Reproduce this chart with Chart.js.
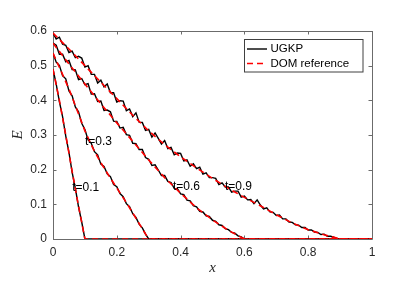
<!DOCTYPE html>
<html>
<head>
<meta charset="utf-8">
<script src="https://cdn.jsdelivr.net/npm/chart.js@4.4.0/dist/chart.umd.min.js"></script>
<style>
  html, body { margin: 0; padding: 0; background: #fff; }
</style>
</head>
<body>
<canvas id="chart" width="399" height="299"></canvas>
<script>
/* E(x) profiles, UGKP vs DOM reference, t = 0.1 / 0.3 / 0.6 / 0.9 */

const X_TICKS = [0, 0.2, 0.4, 0.6, 0.8, 1];
const X_TICK_LABELS = ['0', '0.2', '0.4', '0.6', '0.8', '1'];
const Y_TICKS = [0, 0.1, 0.2, 0.3, 0.4, 0.5, 0.6];
const Y_TICK_LABELS = ['0', '0.1', '0.2', '0.3', '0.4', '0.5', '0.6'];

const X_END = 1;

// fine grid for the UGKP samples
const X_FINE = [
  0.00, 0.01, 0.02, 0.03, 0.04, 0.05, 0.06, 0.07, 0.08, 0.09,
  0.10, 0.11, 0.12, 0.13, 0.14, 0.15, 0.16, 0.17, 0.18, 0.19,
  0.20, 0.21, 0.22, 0.23, 0.24, 0.25, 0.26, 0.27, 0.28, 0.29,
  0.30, 0.31, 0.32, 0.33, 0.34, 0.35, 0.36, 0.37, 0.38, 0.39,
  0.40, 0.41, 0.42, 0.43, 0.44, 0.45, 0.46, 0.47, 0.48, 0.49,
  0.50, 0.51, 0.52, 0.53, 0.54, 0.55, 0.56, 0.57, 0.58, 0.59,
  0.60, 0.61, 0.62, 0.63, 0.64, 0.65, 0.66, 0.67, 0.68, 0.69,
  0.70, 0.71, 0.72, 0.73, 0.74, 0.75, 0.76, 0.77, 0.78, 0.79,
  0.80, 0.81, 0.82, 0.83, 0.84, 0.85, 0.86, 0.87, 0.88, 0.89,
  0.90
];

const UGKP_T01 = [0.490, 0.447, 0.396, 0.353, 0.297, 0.250, 0.192, 0.147, 0.093, 0.049, 0.000];

const UGKP_T03 = [
  0.536, 0.510, 0.501, 0.471, 0.462, 0.427, 0.413, 0.381, 0.367, 0.334,
  0.316, 0.286, 0.276, 0.252, 0.243, 0.216, 0.209, 0.188, 0.180, 0.157,
  0.151, 0.131, 0.122, 0.102, 0.093, 0.073, 0.062, 0.043, 0.032, 0.014,
  0.000
];

const UGKP_T06 = [
  0.565, 0.559, 0.533, 0.533, 0.511, 0.515, 0.489, 0.488, 0.460, 0.463,
  0.445, 0.448, 0.418, 0.419, 0.397, 0.398, 0.371, 0.372, 0.367, 0.340,
  0.339, 0.320, 0.322, 0.301, 0.299, 0.276, 0.275, 0.258, 0.258, 0.235,
  0.230, 0.212, 0.214, 0.199, 0.183, 0.183, 0.166, 0.163, 0.146, 0.145,
  0.130, 0.128, 0.112, 0.110, 0.096, 0.093, 0.080, 0.078, 0.067, 0.065,
  0.054, 0.051, 0.041, 0.039, 0.030, 0.027, 0.019, 0.017, 0.009, 0.006,
  0.000
];

const UGKP_T09 = [
  0.594, 0.577, 0.582, 0.562, 0.559, 0.538, 0.542, 0.523, 0.527, 0.522,
  0.496, 0.500, 0.475, 0.475, 0.450, 0.458, 0.439, 0.447, 0.422, 0.422,
  0.395, 0.399, 0.398, 0.370, 0.375, 0.353, 0.364, 0.337, 0.336, 0.313,
  0.316, 0.294, 0.306, 0.290, 0.274, 0.284, 0.261, 0.264, 0.243, 0.248,
  0.247, 0.225, 0.228, 0.210, 0.217, 0.203, 0.207, 0.187, 0.191, 0.177,
  0.177, 0.175, 0.157, 0.162, 0.150, 0.150, 0.135, 0.138, 0.138, 0.121,
  0.124, 0.113, 0.114, 0.102, 0.113, 0.098, 0.087, 0.090, 0.078, 0.077,
  0.068, 0.069, 0.058, 0.058, 0.049, 0.048, 0.041, 0.040, 0.033, 0.033,
  0.026, 0.026, 0.020, 0.019, 0.013, 0.014, 0.008, 0.008, 0.005, 0.001,
  0.000
];

// DOM reference (smooth)
const X_REF = [0, 0.05, 0.1, 0.15, 0.2, 0.25, 0.3, 0.35, 0.4, 0.45, 0.5, 0.55, 0.6, 0.65, 0.7, 0.75, 0.8, 0.85, 0.9];
const X_REF_T03 = [0, 0.025, 0.05, 0.075, 0.1, 0.125, 0.15, 0.175, 0.2, 0.225, 0.25, 0.275, 0.3];
const DOM_T01 = [0.490, 0.445, 0.400, 0.350, 0.300, 0.248, 0.195, 0.145, 0.095, 0.048, 0.000];
const DOM_T03 = [0.536, 0.485, 0.433, 0.373, 0.312, 0.262, 0.220, 0.183, 0.147, 0.112, 0.075, 0.037, 0.000];
const DOM_T06 = [0.565, 0.505, 0.447, 0.390, 0.335, 0.282, 0.228, 0.177, 0.132, 0.090, 0.055, 0.025, 0.000];
const DOM_T09 = [0.594, 0.548, 0.500, 0.452, 0.405, 0.357, 0.312, 0.272, 0.237, 0.205, 0.175, 0.146, 0.120, 0.096, 0.070, 0.046, 0.027, 0.012, 0.000];

const CURVE_LABELS = ['t=0.1', 't=0.3', 't=0.6', 't=0.9'];
const LEGEND_LABELS = ['UGKP', 'DOM reference'];

// ---- styling ----
const AXIS_COLOR = '#6b6b6b';
const TEXT_COLOR = '#262626';
const SANS = "'Liberation Sans', Arial, Helvetica, sans-serif";
const SERIF = "'Liberation Serif', 'Times New Roman', serif";
const UGKP_STYLE = { borderColor: '#000000', borderWidth: 1.4 };
const DOM_STYLE = { borderColor: '#ff0000', borderWidth: 1.6, borderDash: [6, 4] };

// anchor of each curve label, in data units (x, E)
const LABEL_ANCHORS = [[0.06, 0.148], [0.1, 0.28], [0.376, 0.151], [0.539, 0.151]];

function toPoints(xs, ys) {
  const pts = ys.map((y, i) => ({ x: xs[i], y: y }));
  pts.push({ x: X_END, y: 0 });
  return pts;
}

function lineSet(label, points, style, order) {
  return Object.assign({
    label: label,
    data: points,
    showLine: true,
    fill: false,
    tension: 0,
    pointRadius: 0,
    pointHoverRadius: 0,
    order: order
  }, style);
}

const datasets = [
  lineSet('UGKP', toPoints(X_FINE, UGKP_T01), UGKP_STYLE, 1),
  lineSet('UGKP', toPoints(X_FINE, UGKP_T03), UGKP_STYLE, 1),
  lineSet('UGKP', toPoints(X_FINE, UGKP_T06), UGKP_STYLE, 1),
  lineSet('UGKP', toPoints(X_FINE, UGKP_T09), UGKP_STYLE, 1),
  lineSet('DOM reference', toPoints(X_FINE, DOM_T01), DOM_STYLE, 0),
  lineSet('DOM reference', toPoints(X_REF_T03, DOM_T03), DOM_STYLE, 0),
  lineSet('DOM reference', toPoints(X_REF, DOM_T06), DOM_STYLE, 0),
  lineSet('DOM reference', toPoints(X_REF, DOM_T09), DOM_STYLE, 0)
];

// box + inward ticks, drawn under the data (matlab-ish axes)
const axesBox = {
  id: 'axesBox',
  beforeDatasetsDraw(chart) {
    const { ctx, chartArea: a, scales: { x, y } } = chart;
    const tick = 3.5;
    ctx.save();
    ctx.strokeStyle = AXIS_COLOR;
    ctx.lineWidth = 1;
    ctx.beginPath();
    ctx.rect(a.left + 0.5, a.top + 0.5, a.right - a.left, a.bottom - a.top);
    X_TICKS.forEach(v => {
      const px = Math.round(x.getPixelForValue(v)) + 0.5;
      ctx.moveTo(px, a.bottom); ctx.lineTo(px, a.bottom - tick);
      ctx.moveTo(px, a.top); ctx.lineTo(px, a.top + tick);
    });
    Y_TICKS.forEach(v => {
      const py = Math.round(y.getPixelForValue(v)) + 0.5;
      ctx.moveTo(a.left, py); ctx.lineTo(a.left + tick, py);
      ctx.moveTo(a.right, py); ctx.lineTo(a.right - tick, py);
    });
    ctx.stroke();
    ctx.restore();
  }
};

// curve labels and boxed legend
const overlay = {
  id: 'overlay',
  afterDatasetsDraw(chart) {
    const { ctx, chartArea: a, scales: { x, y } } = chart;
    ctx.save();
    ctx.fillStyle = '#000';
    ctx.font = '12px ' + SANS;
    ctx.textAlign = 'left';
    ctx.textBaseline = 'middle';
    CURVE_LABELS.forEach((t, i) => {
      const [lx, ly] = LABEL_ANCHORS[i];
      ctx.fillText(t, x.getPixelForValue(lx), y.getPixelForValue(ly));
    });

    // legend box
    const bx = 244.5, by = 39.5, bw = 118.5, bh = 32.5;
    ctx.fillStyle = '#fff';
    ctx.fillRect(bx, by, bw, bh);
    ctx.strokeStyle = '#404040';
    ctx.lineWidth = 1;
    ctx.strokeRect(bx, by, bw, bh);

    const rows = [49, 63.5];
    const styles = [UGKP_STYLE, DOM_STYLE];
    LEGEND_LABELS.forEach((lab, i) => {
      const s = styles[i];
      ctx.beginPath();
      ctx.strokeStyle = s.borderColor;
      ctx.lineWidth = s.borderWidth;
      ctx.setLineDash(s.borderDash || []);
      ctx.moveTo(247, rows[i]);
      ctx.lineTo(267, rows[i]);
      ctx.stroke();
      ctx.setLineDash([]);
      ctx.fillStyle = '#000';
      ctx.font = '11.5px ' + SANS;
      ctx.fillText(lab, 270.5, rows[i]);
    });
    ctx.restore();
  }
};

new Chart(document.getElementById('chart'), {
  type: 'scatter',
  data: { datasets: datasets },
  options: {
    responsive: false,
    animation: false,
    events: [],
    layout: { padding: { top: 31, right: 27, left: 0, bottom: 0 } },
    plugins: {
      legend: { display: false },
      tooltip: { enabled: false }
    },
    scales: {
      x: {
        type: 'linear',
        min: 0,
        max: 1,
        afterFit: s => { s.height = 60; },
        afterBuildTicks: s => { s.ticks = X_TICKS.map(v => ({ value: v })); },
        grid: { display: false, drawTicks: false },
        border: { display: false },
        ticks: {
          padding: 6,
          color: TEXT_COLOR,
          font: { family: SANS, size: 12 },
          maxRotation: 0,
          callback: (v) => X_TICK_LABELS[X_TICKS.indexOf(v)]
        },
        title: {
          display: true,
          text: 'x',
          color: TEXT_COLOR,
          font: { family: SERIF, size: 15, style: 'italic' },
          padding: { top: 0, bottom: 22 }
        }
      },
      y: {
        type: 'linear',
        min: 0,
        max: 0.6,
        afterFit: s => { s.width = 53; },
        afterBuildTicks: s => { s.ticks = Y_TICKS.map(v => ({ value: v })); },
        grid: { display: false, drawTicks: false },
        border: { display: false },
        ticks: {
          padding: 6,
          color: TEXT_COLOR,
          font: { family: SANS, size: 12 },
          callback: (v) => Y_TICK_LABELS[Y_TICKS.indexOf(v)]
        },
        title: {
          display: true,
          text: 'E',
          color: TEXT_COLOR,
          font: { family: SERIF, size: 15, style: 'italic' },
          padding: { top: 9, bottom: 0 }
        }
      }
    }
  },
  plugins: [axesBox, overlay]
});
</script>
</body>
</html>
